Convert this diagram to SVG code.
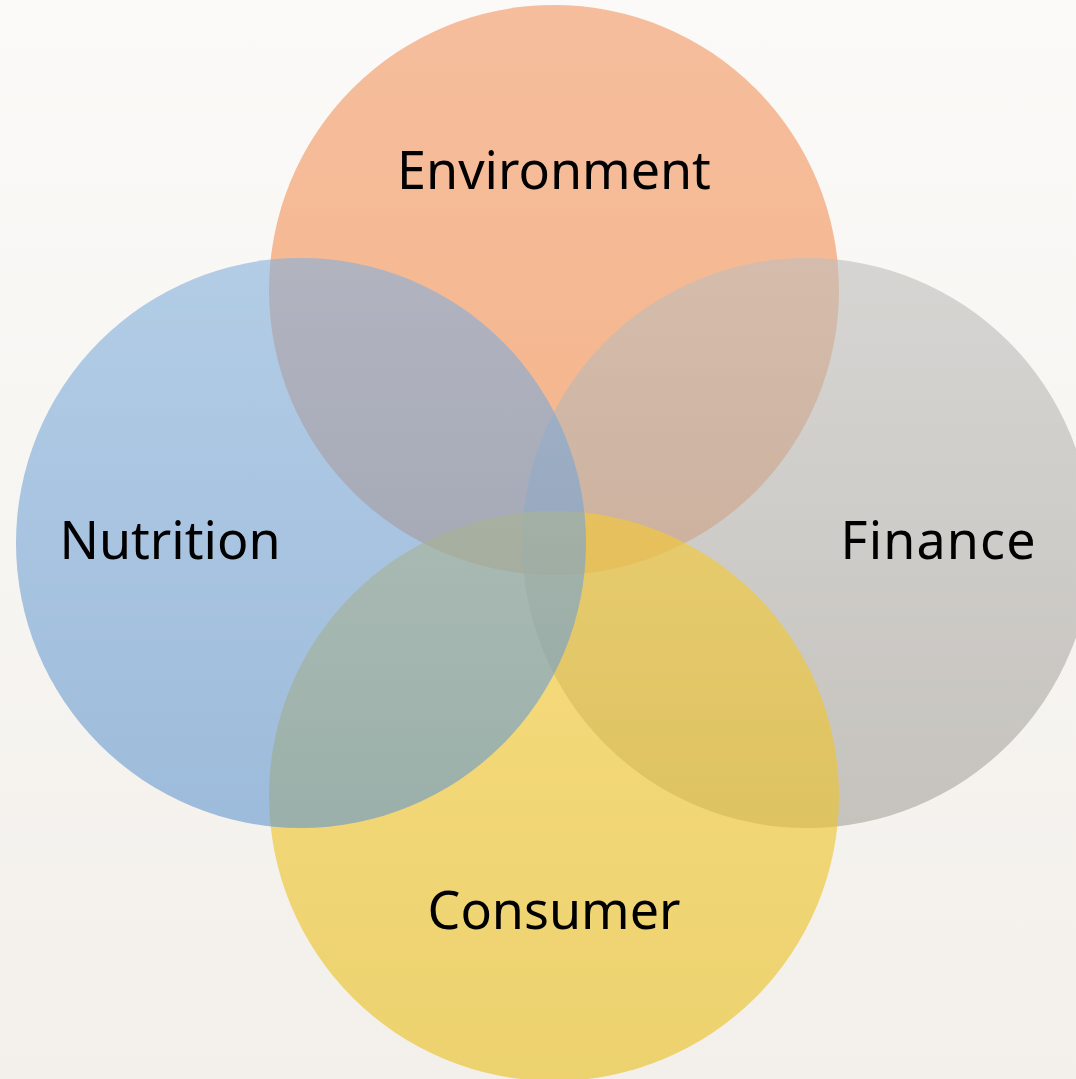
<svg xmlns="http://www.w3.org/2000/svg" width="1076" height="1079" viewBox="0 0 1076 1079">
<defs>
<linearGradient id="bg" x1="0" y1="0" x2="0" y2="1"><stop offset="0" stop-color="#fbfaf8"/><stop offset="1" stop-color="#f3f0eb"/></linearGradient>
<linearGradient id="gEnv" x1="0" y1="0" x2="0" y2="1"><stop offset="0" stop-color="#f39560"/><stop offset="1" stop-color="#f28a45"/></linearGradient>
<linearGradient id="gNut" x1="0" y1="0" x2="0" y2="1"><stop offset="0" stop-color="#84b0dc"/><stop offset="1" stop-color="#6296ce"/></linearGradient>
<linearGradient id="gFin" x1="0" y1="0" x2="0" y2="1"><stop offset="0" stop-color="#bfbebc"/><stop offset="1" stop-color="#a6a39d"/></linearGradient>
<linearGradient id="gCon" x1="0" y1="0" x2="0" y2="1"><stop offset="0" stop-color="#f7ca30"/><stop offset="1" stop-color="#e8bd1c"/></linearGradient>
</defs>
<style>
.c{fill-opacity:0.6}
.t{font-family:"Noto Sans","Liberation Sans",sans-serif;font-size:52px;fill:#000;text-anchor:middle}
</style>
<rect width="1076" height="1079" fill="url(#bg)"/>
<g id="environment"><circle class="c" cx="554" cy="290" r="285" fill="url(#gEnv)"/></g>
<g id="finance"><circle class="c" cx="807" cy="543" r="285" fill="url(#gFin)"/></g>
<g id="consumer"><circle class="c" cx="554" cy="796" r="285" fill="url(#gCon)"/></g>
<g id="nutrition"><circle class="c" cx="301" cy="543" r="285" fill="url(#gNut)"/></g>
<g id="labels">
<text class="t" x="554" y="189">Environment</text>
<text class="t" x="170" y="559">Nutrition</text>
<text class="t" x="938" y="559" textLength="195">Finance</text>
<text class="t" x="554" y="929">Consumer</text>
</g>
<g id="connectors"/>
</svg>
